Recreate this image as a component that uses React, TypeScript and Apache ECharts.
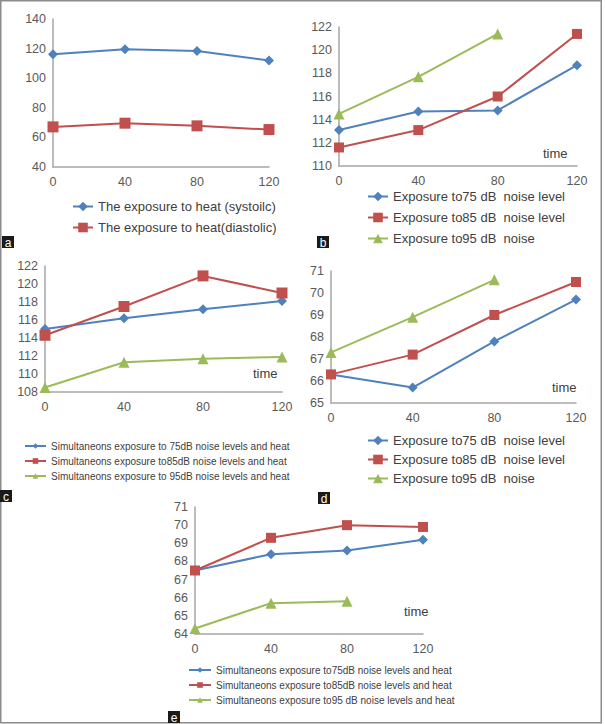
import React, { useEffect, useRef } from "react";
import * as echarts from "echarts";

// ---- data ----
const timeTicks = [0, 40, 80, 120];

const aSeriesNames = ["The exposure to heat (systoilc)", "The exposure to heat(diastolic)"];
const aSystolic = [116.1, 119.5, 118.3, 112.0];
const aDiastolic = [67.1, 69.6, 67.8, 65.3];

const noiseNames = ["Exposure to75 dB  noise level", "Exposure to85 dB  noise level", "Exposure to95 dB  noise"];
const b75 = [113.1, 114.7, 114.8, 118.7];
const b85 = [111.6, 113.1, 116.0, 121.4];
const b95 = [114.5, 117.7, 121.4];

const cNames = [
  "Simultaneons exposure to 75dB noise levels and heat",
  "Simultaneons exposure to85dB noise levels and heat",
  "Simultaneons exposure to 95dB noise levels and heat",
];
const c75 = [115.0, 116.2, 117.2, 118.1];
const c85 = [114.3, 117.5, 120.9, 119.0];
const c95 = [108.5, 111.3, 111.7, 111.9];

const d75 = [66.3, 65.7, 67.8, 69.7];
const d85 = [66.3, 67.2, 69.0, 70.5];
const d95 = [67.3, 68.9, 70.6];

const eNames = [
  "Simultaneons exposure to75dB noise levels and heat",
  "Simultaneons exposure to85dB noise levels and heat",
  "Simultaneons exposure to95 dB noise levels and heat",
];
const e75 = [67.5, 68.4, 68.6, 69.2];
const e85 = [67.5, 69.3, 70.0, 69.9];
const e95 = [64.3, 65.7, 65.8];

const yRanges = [
  [40, 140, 20],
  [110, 122, 2],
  [108, 122, 2],
  [65, 71, 1],
  [64, 71, 1],
];
const panelLetters = ["a", "b", "c", "d", "e"];

// ---- styles ----
const BLUE = "#4F81BD";
const RED = "#C0504D";
const GREEN = "#9BBB59";
const FONT = "Liberation Sans, Arial, sans-serif";
const AXIS = "#A6A6A6";
const LABEL = "#595959";

const grids = [
  { left: 53, top: 19, width: 216, height: 148 },
  { left: 339, top: 27, width: 238, height: 139 },
  { left: 45, top: 266, width: 237, height: 126 },
  { left: 331, top: 271, width: 245, height: 132 },
  { left: 195, top: 507, width: 228, height: 127 },
];

const pts = (vals: number[]) => vals.map((v, i) => [timeTicks[i], v]);

function mkSeries(name: string, vals: number[], idx: number, color: string, symbol: string, size: number) {
  return {
    type: "line",
    name,
    xAxisIndex: idx,
    yAxisIndex: idx,
    data: pts(vals),
    symbol,
    symbolSize: size,
    color,
    lineStyle: { color, width: 2 },
    itemStyle: { color },
    emphasis: { disabled: true },
  };
}

function mkLegend(names: string[], left: number, top: number, gap: number, fontSize: number, itemHeight: number, itemWidth: number) {
  return {
    data: names,
    orient: "vertical",
    left,
    top,
    padding: 0,
    itemGap: gap,
    itemWidth,
    itemHeight,
    selectedMode: false,
    textStyle: { fontSize, color: "#404040", fontFamily: FONT },
  };
}

const labelBoxes = [
  { x: 2, y: 236 },
  { x: 317, y: 236 },
  { x: 0, y: 490 },
  { x: 318, y: 492 },
  { x: 168, y: 711 },
];
const timeLabels = [
  { x: 543, y: 153 },
  { x: 253, y: 373 },
  { x: 552, y: 387 },
  { x: 404, y: 611 },
];

export default function App() {
  const ref = useRef<HTMLDivElement>(null);
  useEffect(() => {
    document.body.style.margin = "0";
    const chart = echarts.init(ref.current!, undefined, { renderer: "svg" });
    const option: any = {
      animation: false,
      backgroundColor: "#ffffff",
      grid: grids.map((g) => ({ ...g })),
      xAxis: grids.map((_, i) => ({
        type: "value",
        gridIndex: i,
        min: 0,
        max: 120,
        interval: 40,
        axisLine: { show: true, lineStyle: { color: AXIS, width: 1.5 } },
        axisTick: { show: false },
        splitLine: { show: false },
        axisLabel: { color: LABEL, fontSize: 12.5, fontFamily: FONT, margin: 8 },
      })),
      yAxis: grids.map((_, i) => ({
        type: "value",
        gridIndex: i,
        min: yRanges[i][0],
        max: yRanges[i][1],
        interval: yRanges[i][2],
        axisLine: { show: true, lineStyle: { color: AXIS, width: 1.5 } },
        axisTick: { show: false },
        splitLine: { show: false },
        axisLabel: { color: LABEL, fontSize: 12.5, fontFamily: FONT, margin: 7 },
      })),
      legend: [
        mkLegend(aSeriesNames, 72, 200, 8, 13, 12, 20),
        mkLegend(noiseNames, 367, 190, 8, 13, 12, 20),
        mkLegend(cNames, 24, 441, 5, 10, 7, 21),
        mkLegend(noiseNames, 367, 434, 6, 13, 12, 20),
        mkLegend(eNames, 188, 665, 5, 10, 7, 22),
      ],
      series: [
        mkSeries(aSeriesNames[0], aSystolic, 0, BLUE, "diamond", 10),
        mkSeries(aSeriesNames[1], aDiastolic, 0, RED, "rect", 11),
        mkSeries(noiseNames[0], b75, 1, BLUE, "diamond", 10),
        mkSeries(noiseNames[1], b85, 1, RED, "rect", 10),
        mkSeries(noiseNames[2], b95, 1, GREEN, "triangle", 11),
        mkSeries(cNames[0], c75, 2, BLUE, "diamond", 10),
        mkSeries(cNames[1], c85, 2, RED, "rect", 11),
        mkSeries(cNames[2], c95, 2, GREEN, "triangle", 11),
        mkSeries(noiseNames[0], d75, 3, BLUE, "diamond", 10),
        mkSeries(noiseNames[1], d85, 3, RED, "rect", 10),
        mkSeries(noiseNames[2], d95, 3, GREEN, "triangle", 11),
        mkSeries(eNames[0], e75, 4, BLUE, "diamond", 10),
        mkSeries(eNames[1], e85, 4, RED, "rect", 10),
        mkSeries(eNames[2], e95, 4, GREEN, "triangle", 11),
      ],
      graphic: [
        {
          type: "rect",
          shape: { x: 0.75, y: 0.75, width: 600.5, height: 722 },
          style: { fill: "none", stroke: "#8C8C8C", lineWidth: 1.5 },
          silent: true,
        },
        ...labelBoxes.map((b, i) => ({
          type: "group",
          x: b.x,
          y: b.y,
          children: [
            { type: "rect", shape: { x: 0, y: 0, width: 12, height: 12 }, style: { fill: "#1a1a1a" } },
            {
              type: "text",
              style: {
                x: 6,
                y: 6.5,
                text: panelLetters[i],
                fill: "#ffffff",
                font: `12px ${FONT}`,
                textAlign: "center",
                textVerticalAlign: "middle",
              },
            },
          ],
        })),
        ...timeLabels.map((t) => ({
          type: "text",
          style: {
            x: t.x,
            y: t.y,
            text: "time",
            fill: "#404040",
            font: `13px ${FONT}`,
            textAlign: "left",
            textVerticalAlign: "middle",
          },
        })),
      ],
    };
    chart.setOption(option);
    return () => chart.dispose();
  }, []);
  return <div ref={ref} style={{ width: 605, height: 724 }} />;
}
